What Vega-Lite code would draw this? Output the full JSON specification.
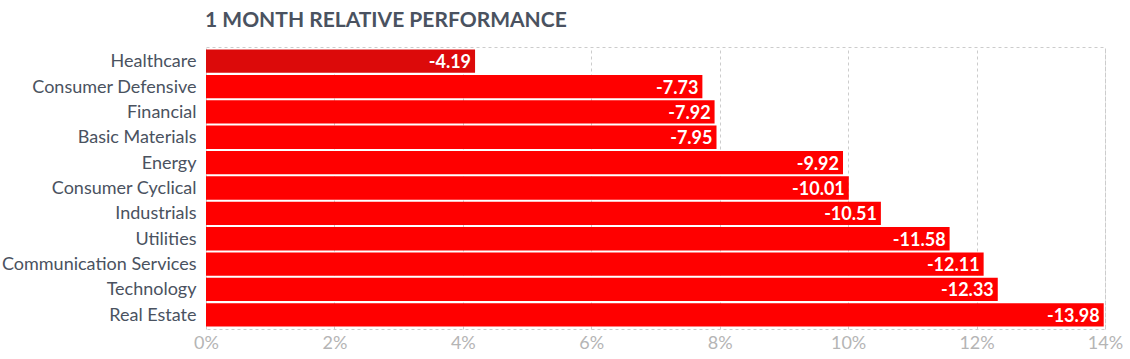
{
  "$schema": "https://vega.github.io/schema/vega-lite/v6.json",
  "autosize": {"type": "none"},
  "width": 899,
  "height": 282,
  "padding": {"left": 206, "top": 47, "right": 25, "bottom": 30},
  "background": "white",
  "title": {
    "text": "1 MONTH RELATIVE PERFORMANCE",
    "anchor": "start",
    "frame": "group",
    "font": "Lato",
    "fontSize": 21,
    "fontWeight": "bold",
    "color": "#4a5260",
    "offset": 16,
    "dx": -1
  },
  "config": {
    "view": {"stroke": "#cccccc", "strokeDash": [3, 3], "strokeWidth": 1},
    "font": "Lato"
  },
  "data": {
    "values": [
      {"sector": "Healthcare", "value": -4.19},
      {"sector": "Consumer Defensive", "value": -7.73},
      {"sector": "Financial", "value": -7.92},
      {"sector": "Basic Materials", "value": -7.95},
      {"sector": "Energy", "value": -9.92},
      {"sector": "Consumer Cyclical", "value": -10.01},
      {"sector": "Industrials", "value": -10.51},
      {"sector": "Utilities", "value": -11.58},
      {"sector": "Communication Services", "value": -12.11},
      {"sector": "Technology", "value": -12.33},
      {"sector": "Real Estate", "value": -13.98}
    ]
  },
  "encoding": {
    "y": {
      "field": "sector",
      "type": "nominal",
      "sort": null,
      "scale": {"paddingInner": 0.08, "paddingOuter": 0.1},
      "axis": {
        "title": null,
        "domain": false,
        "ticks": false,
        "labelFont": "Lato",
        "labelFontSize": 18,
        "labelColor": "#4a5260",
        "labelPadding": 10,
        "labelOffset": 1,
        "labelLimit": 300
      }
    },
    "x": {
      "field": "value",
      "type": "quantitative",
      "scale": {"domain": [0, -14], "nice": false},
      "axis": {
        "title": null,
        "values": [0, -2, -4, -6, -8, -10, -12, -14],
        "labelExpr": "format(abs(datum.value), 'd') + '%'",
        "labelFlush": false,
        "domain": false,
        "ticks": false,
        "grid": true,
        "gridColor": "#cccccc",
        "gridDash": [3, 3],
        "labelFont": "Lato",
        "labelFontSize": 18,
        "labelColor": "#b5b5b5",
        "labelPadding": 5
      }
    }
  },
  "layer": [
    {
      "mark": {"type": "bar"},
      "encoding": {
        "color": {
          "condition": {"test": "datum.sector === 'Healthcare'", "value": "#dc0a0a"},
          "value": "#ff0000"
        }
      }
    },
    {
      "transform": [
        {"calculate": "replace(format(datum.value, '.2f'), '\u2212', '-')", "as": "label"}
      ],
      "mark": {
        "type": "text",
        "align": "right",
        "baseline": "middle",
        "dx": -4,
        "dy": 2,
        "font": "Lato",
        "fontSize": 18,
        "fontWeight": "bold",
        "color": "white"
      },
      "encoding": {
        "text": {"field": "label", "type": "nominal"}
      }
    }
  ]
}
